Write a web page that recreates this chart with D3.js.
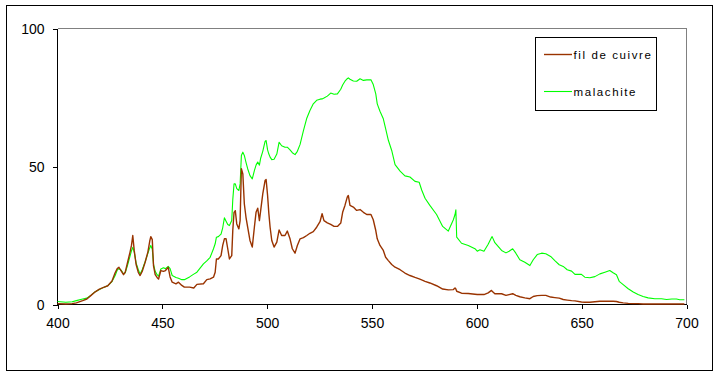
<!DOCTYPE html>
<html><head><meta charset="utf-8">
<script src="https://cdn.jsdelivr.net/npm/d3@7"></script>
<style>
html,body{margin:0;padding:0;background:#fff;}
svg{display:block;font-family:"Liberation Sans",Arial,sans-serif;}
</style></head><body>
<svg id="c" width="720" height="376"></svg>
<script>
const wavelengths = [400,404,407,409,412,414,416,418,420,422,424,426,427.5,428.5,429.3,430.5,431.5,432.3,433.5,434.6,435.3,435.9,436.6,437.5,438.6,439.4,440.5,441.8,443.1,444,444.5,445.2,445.8,446.6,447.5,448.2,449.3,450.5,451.5,452.8,453.7,454.7,456.5,457.7,459.3,460.5,463,465,466.5,469.6,471.2,472.8,474.4,475.2,475.8,476.7,478,478.8,479.6,480.4,481.2,482,483.1,483.6,484.2,484.8,485.5,486.5,487.1,487.7,488.4,489.1,489.9,490.7,491.8,492.9,493.9,494.7,495.5,496.3,496.9,497.9,499,499.5,500.2,500.8,501.4,502.2,503.3,504.6,505.7,506.9,508.5,509.6,510.9,512,513.3,514.4,515.7,517.3,518.9,520.4,522,523.6,525.2,526.2,527.1,528.7,530.3,531.9,533.5,535.1,536,537.1,538.2,538.7,539.5,541.1,542.7,544.3,545.9,547.5,549.5,550.6,551.8,552.5,553.8,555.4,556.5,557.8,559.4,561,563.4,565.7,568.1,570.5,572.5,573.7,575.3,577.6,580.8,583.7,586.4,588.8,589.6,590,590.4,592.7,595.9,599.1,600.2,601.5,603.4,605.4,607,607.3,608.6,611.8,613.9,615.4,617.1,618.6,620.5,622.9,625.3,626.9,628.8,630.9,632.9,635.2,637.2,639.3,641.2,643.1,645.2,646.8,649.9,651.5,653.9,656.3,658.7,661.1,663.4,665,666.6,667.9,669.8,672.2,674.6,676.9,679.3,681.7,684.9,688.1,690.5,693,695.2,696.8,699];
const filDeCuivre = [0.3,0.2,0.3,0.6,1.4,2.0,3.3,4.6,5.6,6.2,6.8,8.5,11.5,13.0,13.5,12.0,10.8,11.7,15.5,19.0,21.5,25.0,19.5,14.5,11.5,10.5,12.2,15.3,19.0,23.0,24.6,23.5,14.0,10.8,9.8,9.2,12.3,12.0,12.3,13.5,10.0,8.1,7.5,8.1,6.9,6.3,6.3,6.0,7.3,7.5,9.0,9.3,9.9,11.7,16.5,16.5,17.7,21.4,23.8,23.8,20.2,16.5,17.7,26.8,33.4,34.0,29.2,27.4,30.4,49.2,47.3,36.5,31.6,28.0,23.2,20.8,28.0,33.4,34.9,30.4,34.0,40.1,44.9,45.3,39.5,33.0,28.0,23.2,20.8,22.6,27.0,25.0,25.0,26.6,23.8,20.2,18.6,21.4,23.8,24.2,25.0,25.8,26.4,28.0,30.0,32.9,30.4,29.6,29.0,28.3,28.3,29.5,33.4,35.9,38.9,39.5,35.9,35.3,34.1,34.4,33.4,32.6,32.6,30.7,26.8,23.8,21.4,19.6,17.1,15.9,14.5,13.5,12.6,11.4,10.5,9.8,9.3,8.9,8.4,7.8,6.8,5.6,5.3,5.4,6.0,5.6,4.8,4.1,4.0,3.7,3.6,3.6,3.6,4.2,5.1,4.8,3.9,3.9,3.3,3.6,3.9,3.3,2.8,2.4,2.1,2.9,3.2,3.3,3.3,2.7,2.5,2.3,1.8,1.6,1.4,1.3,0.9,0.8,0.8,1.0,1.2,1.2,1.2,1.2,1.1,0.8,0.6,0.4,0.3,0.3,0.2,0.2,0.2,0.2,0.2,0.2,0.2,0.2,0.2];
const malachite = [1.1,0.8,1.0,1.4,2.0,2.3,3.4,4.6,5.4,6.2,6.8,8.3,10.5,12.5,13.0,12.3,11.0,11.5,14.5,17.5,19.5,20.7,19.0,15.0,12.5,11.0,12.8,15.5,18.5,20.5,21.4,20.0,14.5,12.0,10.8,10.3,12.9,13.3,13.0,13.8,13.0,10.5,9.8,9.5,9.0,9.0,10.0,11.0,11.7,14.7,15.8,17.1,20.2,22.0,24.4,24.6,25.5,27.8,31.4,30.2,29.0,28.6,30.4,38.0,43.7,43.7,42.0,41.3,43.7,54.0,55.2,54.0,51.5,49.2,46.7,45.5,48.5,50.5,51.6,50.5,53.0,55.5,59.1,59.4,56.0,54.5,53.4,52.5,52.6,54.5,58.8,57.5,57.0,57.0,56.0,55.0,54.3,55.5,58.0,63.0,67.5,70.3,72.7,74.0,74.4,74.5,74.8,75.5,76.6,76.2,76.3,78.0,79.5,80.9,81.8,82.1,81.6,81.0,80.9,81.8,81.2,81.4,81.4,79.7,76.3,72.7,70.0,67.3,63.7,59.5,55.8,50.7,48.3,46.6,46.2,44.6,44.3,41.5,38.5,35.9,32.6,28.3,26.6,30.7,32.6,34.3,24.4,22.2,21.4,20.2,19.3,19.8,19.3,21.8,24.3,24.6,22.4,19.6,18.7,19.3,20.2,18.6,16.2,15.3,14.1,16.2,18.1,18.6,18.4,17.4,15.9,14.4,13.8,12.6,12.1,10.9,10.9,9.9,9.7,10.1,11.1,11.7,12.3,11.5,10.8,8.4,7.2,5.7,4.5,3.6,2.9,2.4,2.1,2.1,1.8,2.0,2.0,1.7,1.7];
const xTicks = [400,450,500,550,600,650,700];
const yTicks = [0,50,100];
const seriesNames = ["fil de cuivre","malachite"];
const seriesColors = ["#993300","#00ff00"];

const svg = d3.select("#c");
const x = d3.scaleLinear().domain([400,700]).range([57.5,686.5]);
const y = d3.scaleLinear().domain([0,100]).range([304.5,28.5]);

// outer border
svg.append("rect").attr("x",6.5).attr("y",5.5).attr("width",706).attr("height",365)
  .attr("fill","none").attr("stroke","#000").attr("stroke-width",1);

// plot area border (gray top & right)
svg.append("path").attr("d",`M${x(400)},${y(100)}H${x(700)}V${y(0)}`)
  .attr("fill","none").attr("stroke","#808080").attr("stroke-width",1).attr("shape-rendering","crispEdges");

const tf = d3.format("d");
const yAxis = d3.axisLeft(y).tickValues(yTicks).tickFormat(tf).tickSize(5).tickPadding(8);
const xAxis = d3.axisBottom(x).tickValues(xTicks).tickFormat(tf).tickSize(4).tickPadding(10);

const gy = svg.append("g").attr("transform",`translate(${x(400)},0)`).call(yAxis);
const gx = svg.append("g").attr("transform",`translate(0,${y(0)})`).call(xAxis);
[gx,gy].forEach(g=>{
  g.select(".domain").attr("stroke","#000").attr("shape-rendering","crispEdges");
  g.selectAll(".tick line").attr("stroke","#000").attr("shape-rendering","crispEdges");
  g.selectAll(".tick text").attr("fill","#000").attr("font-size","14px")
    .attr("font-family","'Liberation Sans',Arial,sans-serif");
});
gy.select(".domain").attr("d",`M0,${y(100)}V${y(0)}`);
gx.select(".domain").attr("d",`M${x(400)},0H${x(700)}`);
gy.selectAll(".tick text").attr("x",-13).attr("dy","0.36em");
gx.selectAll(".tick text").attr("dy","0.71em");

const idx = d3.range(wavelengths.length);
const line = vals => d3.line().x(i=>x(wavelengths[i])).y(i=>y(vals[i]))(idx);

svg.append("path").attr("d",line(malachite)).attr("fill","none")
  .attr("stroke",seriesColors[1]).attr("stroke-width",1.1).attr("stroke-linejoin","round");
svg.append("path").attr("d",line(filDeCuivre)).attr("fill","none")
  .attr("stroke",seriesColors[0]).attr("stroke-width",1.4).attr("stroke-linejoin","round");

// legend
const lg = svg.append("g");
lg.append("rect").attr("x",535.5).attr("y",37.5).attr("width",121).attr("height",73)
  .attr("fill","#fff").attr("stroke","#000").attr("stroke-width",1);
const ly = [54.5, 91.5];
seriesNames.forEach((n,i)=>{
  lg.append("line").attr("x1",544).attr("x2",572).attr("y1",ly[i]).attr("y2",ly[i])
    .attr("stroke",seriesColors[i]).attr("stroke-width",i===0?1.4:1.1);
  lg.append("text").attr("x",573.5).attr("y",ly[i]+4.5).attr("font-size","11.5px")
    .attr("letter-spacing","1.6px").attr("fill","#000").text(n);
});
</script>
</body></html>
